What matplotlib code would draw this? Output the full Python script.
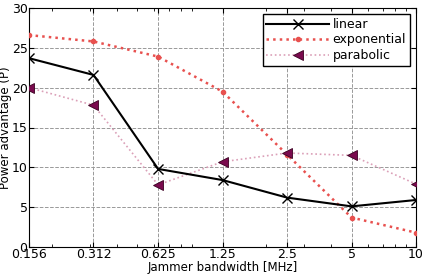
import matplotlib
matplotlib.use("Agg")
import matplotlib.pyplot as plt
from matplotlib.ticker import FixedLocator, FixedFormatter, NullFormatter

bandwidth = [0.156, 0.312, 0.625, 1.25, 2.5, 5, 10]
tick_labels = ["0.156", "0.312", "0.625", "1.25", "2.5", "5", "10"]
linear = [23.7, 21.6, 9.8, 8.4, 6.2, 5.1, 5.9]
exponential = [26.6, 25.8, 23.9, 19.5, 11.6, 3.7, 1.8]
parabolic = [20.0, 17.8, 7.8, 10.7, 11.8, 11.5, 7.9]

plt.rcParams["font.family"] = "DejaVu Sans"
fig = plt.figure(figsize=(4.28, 2.76), dpi=100)
ax = fig.add_axes([29 / 428, 1 - 247 / 276, (416 - 29) / 428, (247 - 8) / 276])

ax.plot(bandwidth, linear, color="black", lw=1.5, marker="x", ms=7, mew=1,
        label="linear", zorder=4)
ax.plot(bandwidth, exponential, color="#e8514f", lw=1.8, ls=":", marker="o",
        ms=3, label="exponential", zorder=3)
ax.plot(bandwidth, parabolic, color="#dba0b8", lw=1.2, ls=":", marker="<",
        ms=7, mfc="#7a0a4e", mec="#3a0020", mew=0.6, label="parabolic", zorder=3)

ax.set_xscale("log")
ax.set_xlim(0.156, 10)
ax.set_ylim(0, 30)
ax.xaxis.set_major_locator(FixedLocator(bandwidth))
ax.xaxis.set_major_formatter(FixedFormatter(tick_labels))
ax.xaxis.set_minor_formatter(NullFormatter())
ax.set_yticks([0, 5, 10, 15, 20, 25, 30])
ax.tick_params(labelsize=9, direction="in")
ax.tick_params(axis="x", pad=1)
ax.tick_params(axis="y", pad=1)
ax.tick_params(which="both", top=True, right=True, direction="in")
ax.grid(True, ls="--", color="#999999", lw=0.7)
ax.set_xlabel("Jammer bandwidth [MHz]", fontsize=8.5, labelpad=0)
ax.set_ylabel("Power advantage (P)", fontsize=8.5, labelpad=0)

leg = ax.legend(loc="upper right", fontsize=9, fancybox=False, framealpha=1,
                edgecolor="black", handlelength=5, borderpad=0.3,
                labelspacing=0.2, handletextpad=0.3, borderaxespad=0.5)
leg.get_frame().set_linewidth(1)

fig.savefig("out.png", dpi=100)
